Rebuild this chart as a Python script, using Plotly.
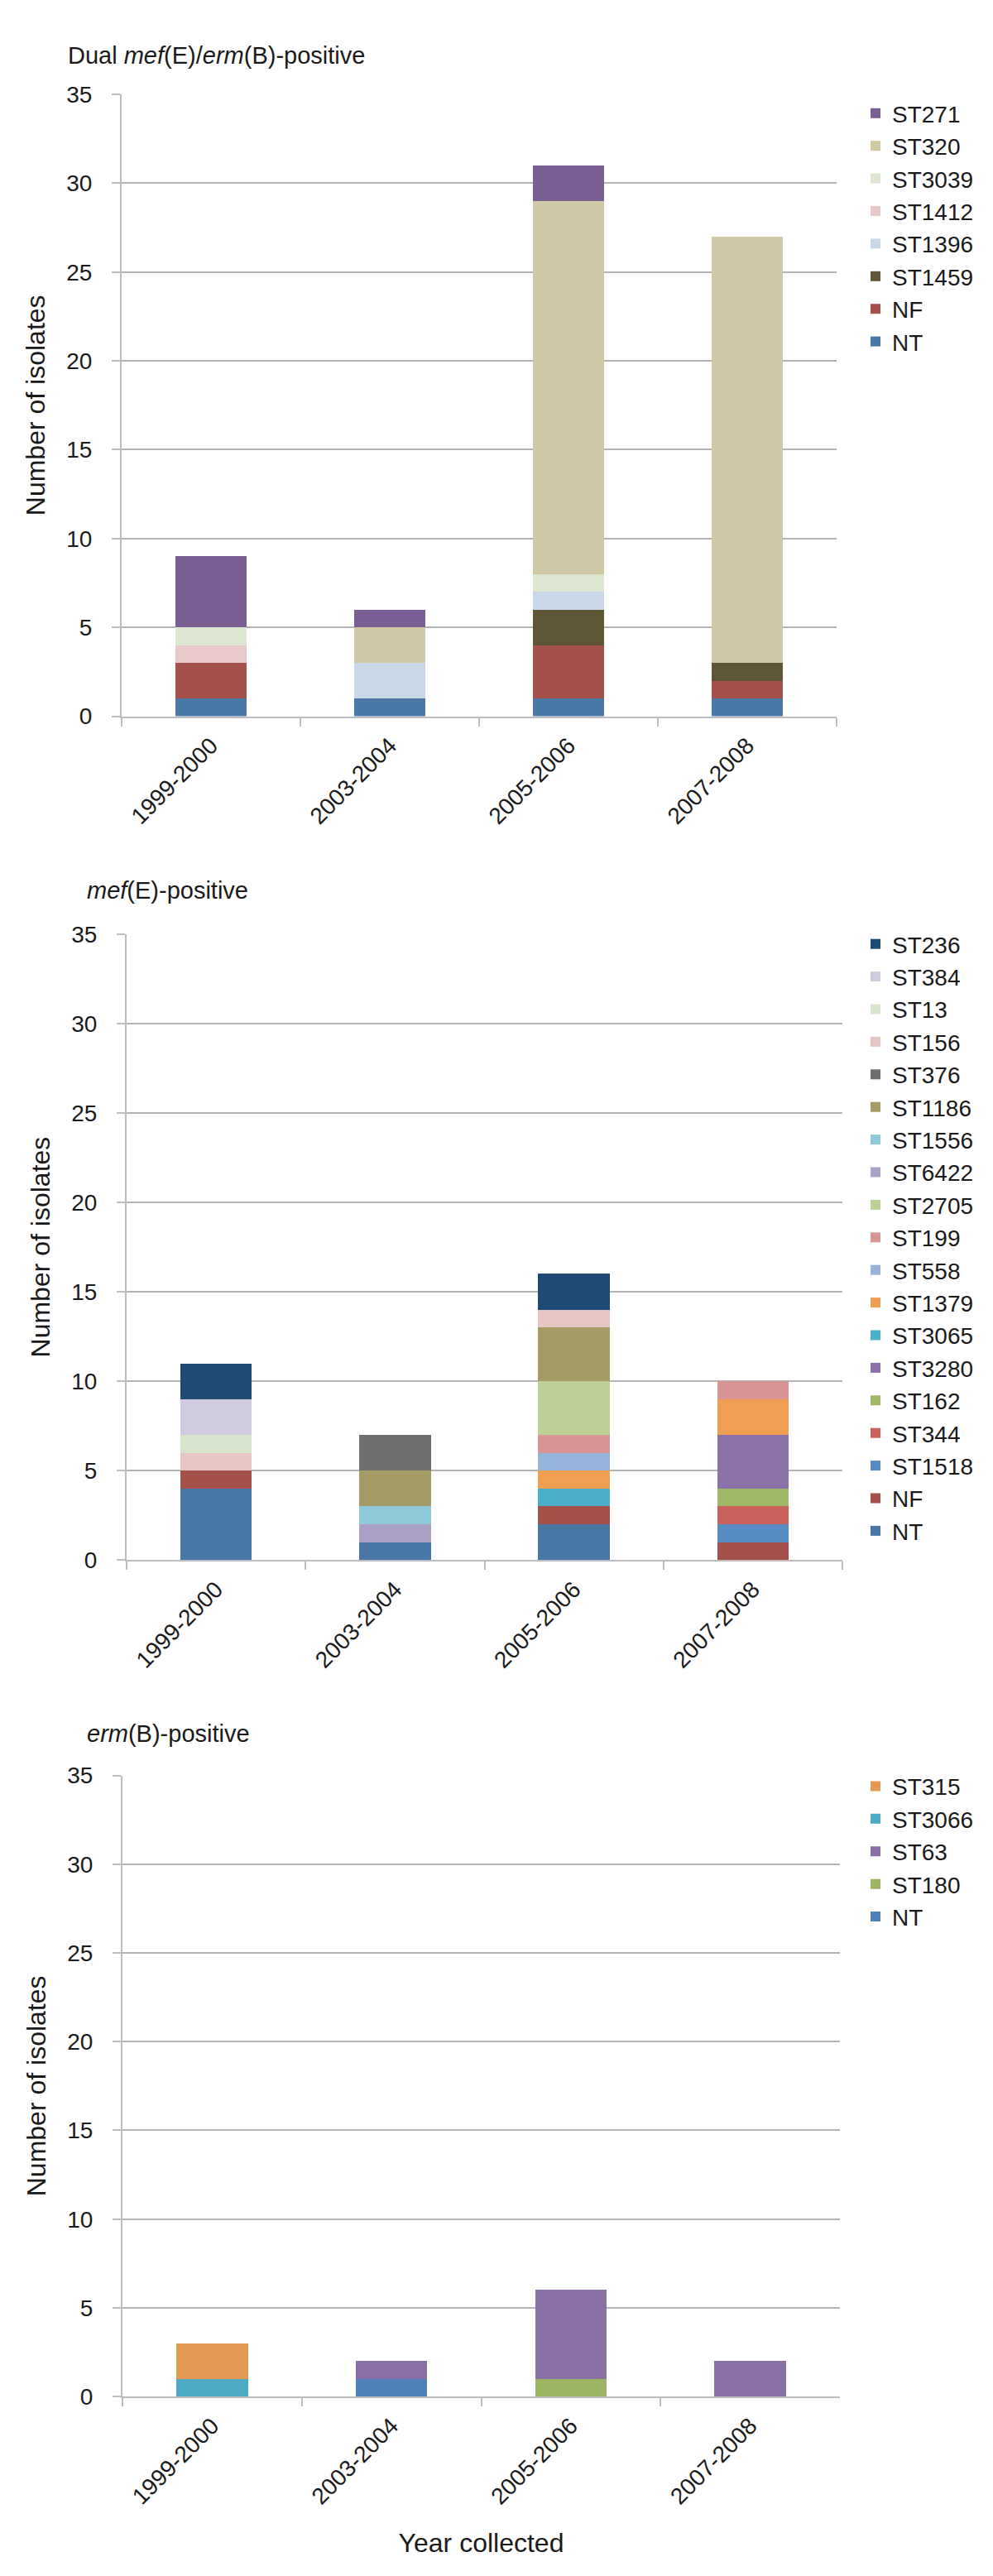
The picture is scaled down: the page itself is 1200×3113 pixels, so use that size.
import plotly.graph_objects as go

W, H = 1200, 3113
FONT = "Liberation Sans, Arial, sans-serif"

years = ["1999-2000", "2003-2004", "2005-2006", "2007-2008"]

# Panel 1: Dual mef(E)/erm(B)-positive (bottom -> top of stack)
dual_names = ["NT", "NF", "ST1459", "ST1396", "ST1412", "ST3039", "ST320", "ST271"]
dual_colors = ["#4A77A6", "#A4504B", "#5E5634", "#C9D6E8", "#E8C8C8", "#DCE6D0", "#CFC9A5", "#7A5F94"]
dual_values = [
    [1, 1, 1, 1],    # NT
    [2, 0, 3, 1],    # NF
    [0, 0, 2, 1],    # ST1459
    [0, 2, 1, 0],    # ST1396
    [1, 0, 0, 0],    # ST1412
    [1, 0, 1, 0],    # ST3039
    [0, 2, 21, 24],  # ST320
    [4, 1, 2, 0],    # ST271
]

# Panel 2: mef(E)-positive
mef_names = ["NT", "NF", "ST1518", "ST344", "ST162", "ST3280", "ST3065", "ST1379", "ST558",
             "ST199", "ST2705", "ST6422", "ST1556", "ST1186", "ST376", "ST156", "ST13", "ST384", "ST236"]
mef_colors = ["#4A77A6", "#A4504B", "#578CC2", "#C9605C", "#9FB966", "#8A72A8", "#4BAFC8", "#EF9E52", "#97B3D9",
              "#D99594", "#BCD097", "#ABA0C6", "#90C9D9", "#A59B67", "#6E6E6E", "#E6C5C5", "#D9E4CC", "#CFCADD", "#1F4A73"]
mef_values = [
    [4, 1, 2, 0],  # NT
    [1, 0, 1, 1],  # NF
    [0, 0, 0, 1],  # ST1518
    [0, 0, 0, 1],  # ST344
    [0, 0, 0, 1],  # ST162
    [0, 0, 0, 3],  # ST3280
    [0, 0, 1, 0],  # ST3065
    [0, 0, 1, 2],  # ST1379
    [0, 0, 1, 0],  # ST558
    [0, 0, 1, 1],  # ST199
    [0, 0, 3, 0],  # ST2705
    [0, 1, 0, 0],  # ST6422
    [0, 1, 0, 0],  # ST1556
    [0, 2, 3, 0],  # ST1186
    [0, 2, 0, 0],  # ST376
    [1, 0, 1, 0],  # ST156
    [1, 0, 0, 0],  # ST13
    [2, 0, 0, 0],  # ST384
    [2, 0, 2, 0],  # ST236
]

# Panel 3: erm(B)-positive
erm_names = ["NT", "ST180", "ST63", "ST3066", "ST315"]
erm_colors = ["#4F80B7", "#9CB663", "#8870A4", "#4BA9C1", "#E59A53"]
erm_values = [
    [0, 1, 0, 0],  # NT
    [0, 0, 1, 0],  # ST180
    [0, 1, 5, 2],  # ST63
    [1, 0, 0, 0],  # ST3066
    [2, 0, 0, 0],  # ST315
]

panel_titles = ["Dual <i>mef</i>(E)/<i>erm</i>(B)-positive", "<i>mef</i>(E)-positive", "<i>erm</i>(B)-positive"]
y_ticks = [0, 5, 10, 15, 20, 25, 30, 35]

# layout geometry in pixels (left, right, top, bottom)
panels_px = [(139, 1003, 92, 851), (145, 1010, 1117, 1881), (140, 1007, 2144, 2902)]
legend_top_px = [90, 1104, 2132]
title_px = [(72, 44), (95, 1064), (95, 2093)]

fig = go.Figure()
datasets = [(dual_names, dual_colors, dual_values), (mef_names, mef_colors, mef_values),
            (erm_names, erm_colors, erm_values)]

for i, (names, colors, values) in enumerate(datasets):
    suffix = "" if i == 0 else str(i + 1)
    for name, color, vals in zip(names, colors, values):
        fig.add_trace(go.Bar(
            x=years, y=vals, name=name,
            marker=dict(color=color, line=dict(width=0)),
            xaxis="x" + suffix, yaxis="y" + suffix,
            legend="legend" + suffix, width=0.4,
        ))

layout = dict(
    width=W, height=H, barmode="stack", showlegend=True,
    paper_bgcolor="white", plot_bgcolor="white",
    margin=dict(l=0, r=0, t=0, b=0),
    font=dict(family=FONT, color="#1a1a1a", size=28),
)

annotations = []
for i, ((l, r, t, b), ltop, (tx, ty)) in enumerate(zip(panels_px, legend_top_px, title_px)):
    suffix = "" if i == 0 else str(i + 1)
    layout["xaxis" + suffix] = dict(
        domain=[l / W, r / W], anchor="y" + suffix, type="category",
        categoryorder="array", categoryarray=years, range=[-0.5, 3.5],
        showline=True, linecolor="#BDBDBD", linewidth=2,
        ticks="outside", tickson="boundaries", ticklen=10, tickcolor="#BDBDBD", tickwidth=2,
        tickangle=-45, tickfont=dict(size=28, family=FONT, color="#1a1a1a"),
        ticklabelstandoff=6,
        showgrid=False, zeroline=False,
        title=dict(text="Year collected" if i == 2 else "", font=dict(size=32, family=FONT, color="#1a1a1a"),
                   standoff=30),
    )
    layout["yaxis" + suffix] = dict(
        domain=[1 - b / H, 1 - t / H], anchor="x" + suffix, range=[0, 35],
        tickvals=y_ticks, showline=True, linecolor="#BDBDBD", linewidth=2,
        ticks="outside", ticklen=10, tickcolor="#BDBDBD", tickwidth=2,
        tickfont=dict(size=28, family=FONT, color="#1a1a1a"), ticklabelstandoff=18,
        showgrid=True, gridcolor="#B3B3B3", gridwidth=2, zeroline=False,
        title=dict(text="Number of isolates", font=dict(size=32, family=FONT, color="#1a1a1a"), standoff=16),
    )
    layout["legend" + suffix] = dict(
        x=1030 / W, xanchor="left", y=1 - ltop / H, yanchor="top",
        traceorder="reversed", font=dict(size=28, family=FONT, color="#1a1a1a"),
        bgcolor="rgba(0,0,0,0)", itemwidth=30, tracegroupgap=0,
    )
    annotations.append(dict(
        text=panel_titles[i], x=tx / W, y=1 - ty / H, xref="paper", yref="paper",
        xanchor="left", yanchor="middle", showarrow=False,
        font=dict(size=29, family=FONT, color="#1a1a1a"),
    ))

layout["annotations"] = annotations
fig.update_layout(**layout)
fig.write_html("out.html")
